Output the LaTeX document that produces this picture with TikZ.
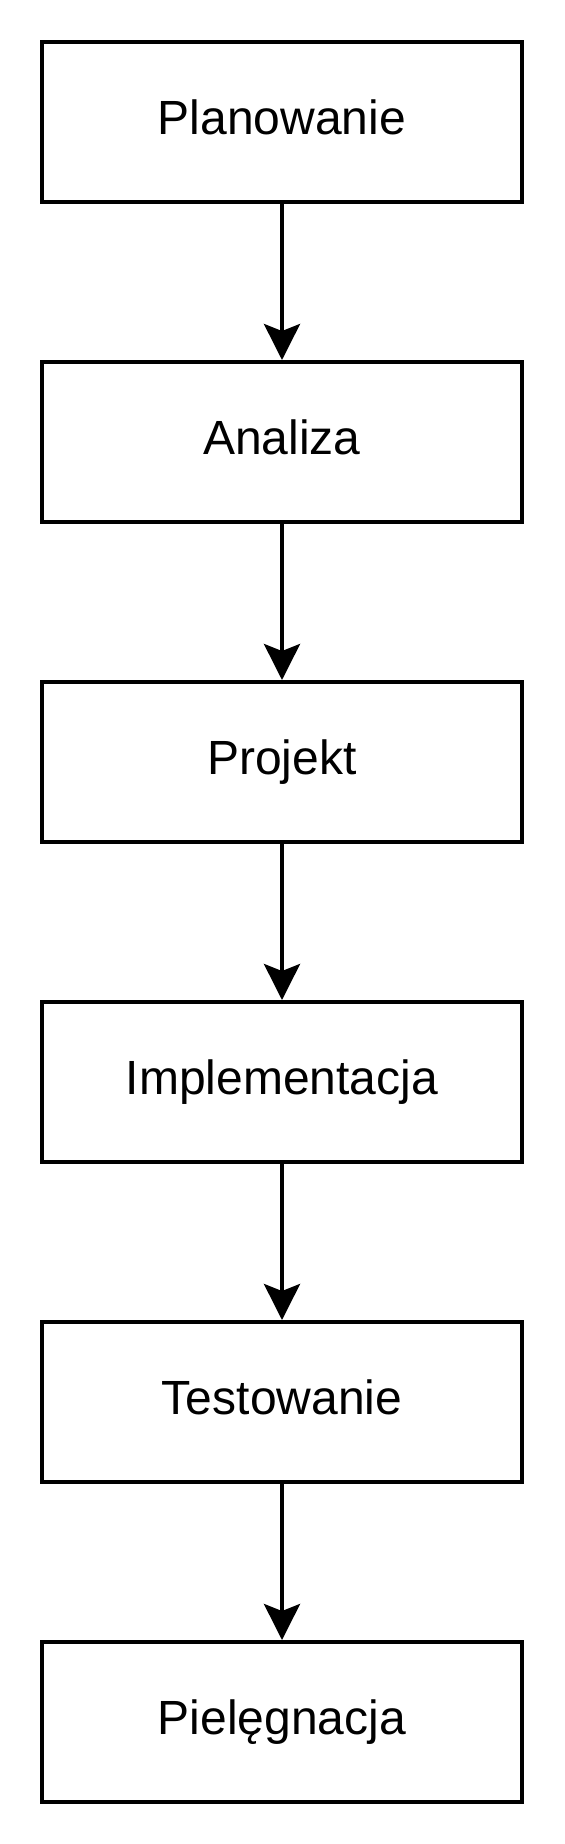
\documentclass[tikz,border=0pt]{standalone}
\usepackage{fontspec}
\setmainfont{Liberation Sans}
\usetikzlibrary{positioning,arrows.meta}

\begin{document}
\begin{tikzpicture}[
  box/.style={draw, line width=2pt, minimum width=240pt, minimum height=80pt,
    font=\fontsize{24}{29}\selectfont, text height=17pt, text depth=5pt},
  flow/.style={-{Stealth[length=18pt, width=18pt, inset=3.5pt]}, line width=2pt},
  node distance=78pt]
  \useasboundingbox (0,0) rectangle (282pt,-922pt);
  \node[box] (plan) at (141pt,-61pt) {Planowanie};
  \node[box, below=of plan] (anal) {Analiza};
  \node[box, below=of anal] (proj) {Projekt};
  \node[box, below=of proj] (impl) {Implementacja};
  \node[box, below=of impl] (test) {Testowanie};
  \node[box, below=of test] (piel) {Pielęgnacja};
  \draw[flow] (plan) -- (anal);
  \draw[flow] (anal) -- (proj);
  \draw[flow] (proj) -- (impl);
  \draw[flow] (impl) -- (test);
  \draw[flow] (test) -- (piel);
\end{tikzpicture}
\end{document}
